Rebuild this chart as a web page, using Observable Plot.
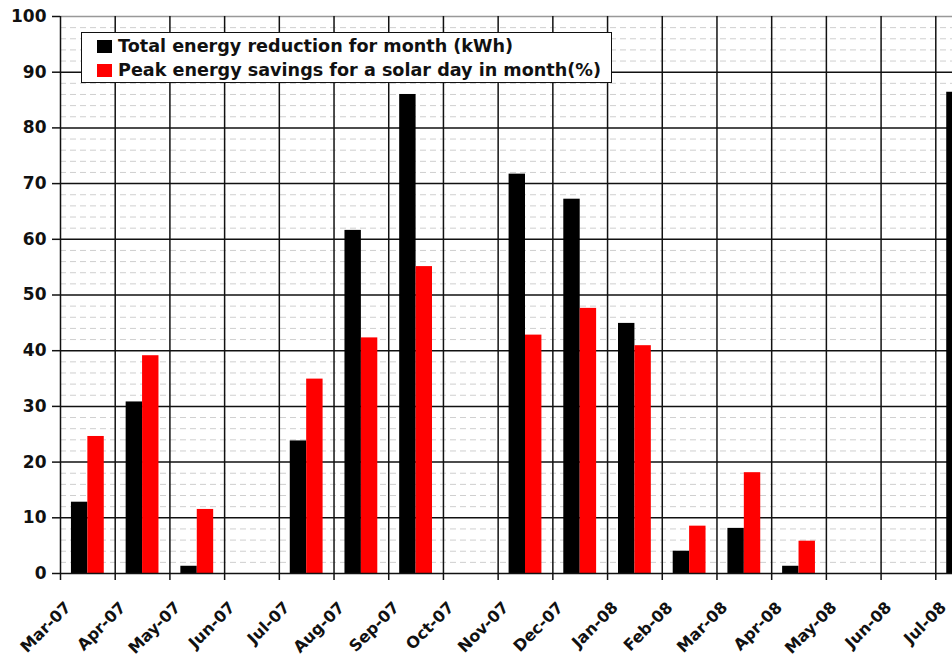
<!DOCTYPE html>
<html>
<head>
<meta charset="utf-8">
<script src="https://cdn.jsdelivr.net/npm/d3@7"></script>
<script src="https://cdn.jsdelivr.net/npm/@observablehq/plot@0.6"></script>
<style>
  html, body { margin: 0; padding: 0; background: #fff; overflow: hidden; }
  #wrap { position: relative; width: 952px; height: 659px; overflow: hidden; }
  #legend {
    position: absolute; left: 81px; top: 32px; width: 529px; height: 49px;
    background: #fff; border: 1.5px solid #111; box-sizing: content-box;
    font-family: "DejaVu Sans", sans-serif; font-weight: bold; font-size: 17.6px; color: #111;
  }
  .item { position: absolute; left: 15px; display: flex; align-items: center; white-space: nowrap; }
  .sw { width: 15px; height: 13px; margin-right: 6px; }
</style>
</head>
<body>
<div id="wrap">
  <div id="chart"></div>
  <div id="legend">
    <div class="item" style="top:3px"><span class="sw" style="background:#000"></span><span id="l1"></span></div>
    <div class="item" style="top:27px"><span class="sw" style="background:#ff0000"></span><span id="l2"></span></div>
  </div>
</div>
<script>
const months = ["Mar-07","Apr-07","May-07","Jun-07","Jul-07","Aug-07","Sep-07","Oct-07","Nov-07","Dec-07","Jan-08","Feb-08","Mar-08","Apr-08","May-08","Jun-08","Jul-08"];
const totalReduction = [12.8, 30.8, 1.3, null, 23.8, 61.6, 86.0, null, 71.7, 67.2, 44.9, 4.0, 8.1, 1.3, null, null, 86.4];
const peakSavings = [24.6, 39.1, 11.5, null, 34.9, 42.3, 55.1, null, 42.8, 47.6, 40.9, 8.5, 18.1, 5.8, null, null, null];
const seriesNames = ["Total energy reduction for month (kWh)", "Peak energy savings for a solar day in month(%)"];
const yTicks = [0, 10, 20, 30, 40, 50, 60, 70, 80, 90, 100];
const minorTicks = d3.range(2, 100, 2).filter(v => v % 10 !== 0);

document.getElementById("l1").textContent = seriesNames[0];
document.getElementById("l2").textContent = seriesNames[1];

const W = 990, mL = 60, mR = 0;
const step = (W - mL - mR) / months.length;
const barW = step * 0.3;

const blackData = months.map((m, i) => ({month: m, value: totalReduction[i]})).filter(d => d.value != null);
const redData = months.map((m, i) => ({month: m, value: peakSavings[i]})).filter(d => d.value != null);

const chart = Plot.plot({
  width: W,
  height: 659,
  marginLeft: mL,
  marginRight: mR,
  marginTop: 16,
  marginBottom: 86,
  style: {fontFamily: "DejaVu Sans, sans-serif", fontWeight: "bold", fontSize: "16px", color: "#111", maxWidth: "none", background: "#fff"},
  x: {type: "band", domain: months, paddingInner: 0.7, paddingOuter: 0.35, round: false, axis: null},
  y: {domain: [0, 100], axis: null},
  marks: [
    Plot.ruleY(minorTicks, {stroke: "#cfcfcf", strokeDasharray: "6,4", strokeWidth: 1}),
    Plot.ruleY(yTicks.filter(v => v > 0 && v < 100), {stroke: "#111", strokeWidth: 1.5}),
    Plot.ruleY([100], {stroke: "#999", strokeWidth: 1.5}),
    Plot.ruleX(months, {x: d => d, dx: -step / 2, stroke: "#111", strokeWidth: 1.5, insetBottom: -7}),
    Plot.barY(blackData, {x: "month", y: "value", fill: "#000", dx: -barW / 2}),
    Plot.barY(redData, {x: "month", y: "value", fill: "#ff0000", dx: barW / 2}),
    Plot.ruleY([0], {stroke: "#111", strokeWidth: 1.5}),
    Plot.axisY({ticks: yTicks, tickSize: 8, tickPadding: 6, fontSize: 17, fontWeight: "bold", stroke: "#111", strokeWidth: 1.5, label: null}),
    Plot.text(months, {x: d => d, frameAnchor: "bottom", rotate: -45, textAnchor: "end", dx: -16, dy: 35, fontSize: 16, fontWeight: "bold", fill: "#111"})
  ]
});
document.getElementById("chart").appendChild(chart);
</script>
</body>
</html>
